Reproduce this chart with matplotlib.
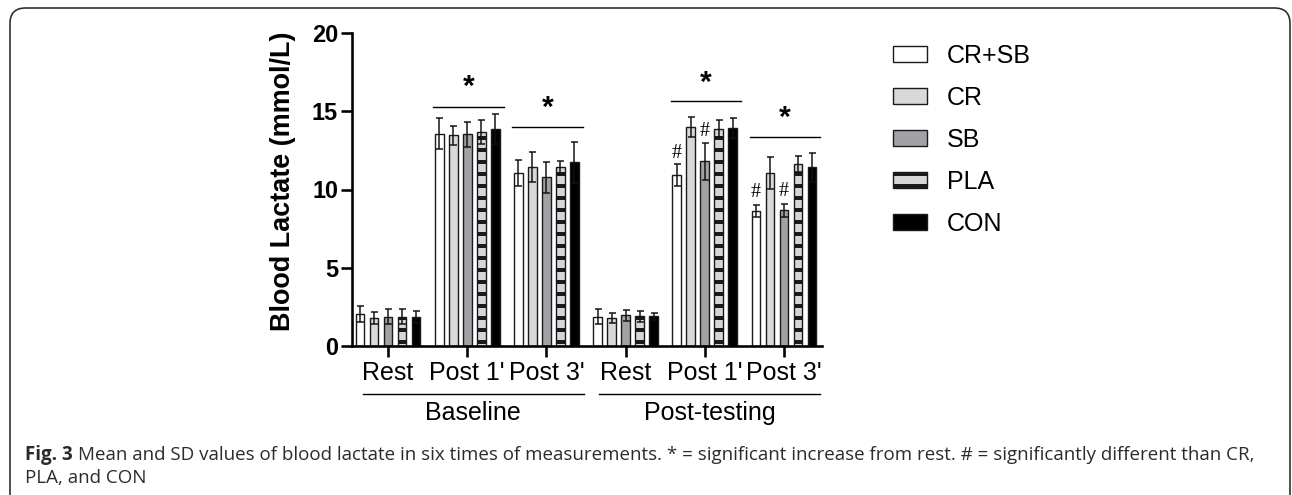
import matplotlib
matplotlib.use("Agg")
import matplotlib.pyplot as plt
from matplotlib.patches import FancyBboxPatch
from matplotlib.lines import Line2D
import numpy as np

# ---------------- data ----------------
time_labels = ["Rest", "Post 1'", "Post 3'", "Rest", "Post 1'", "Post 3'"]
phase_labels = ["Baseline", "Post-testing"]
series_names = ["CR+SB", "CR", "SB", "PLA", "CON"]

crsb_mean = [2.03, 13.57, 11.05, 1.87, 10.93, 8.65]
crsb_sd = [0.50, 1.00, 0.85, 0.47, 0.72, 0.38]
cr_mean = [1.77, 13.46, 11.44, 1.81, 13.97, 11.08]
cr_sd = [0.38, 0.60, 0.96, 0.32, 0.64, 1.02]
sb_mean = [1.87, 13.53, 10.78, 1.96, 11.80, 8.67]
sb_sd = [0.47, 0.80, 0.98, 0.34, 1.20, 0.40]
pla_mean = [1.87, 13.65, 11.42, 1.90, 13.89, 11.65]
pla_sd = [0.47, 0.77, 0.42, 0.36, 0.53, 0.51]
con_mean = [1.85, 13.87, 11.74, 1.90, 13.95, 11.42]
con_sd = [0.37, 0.98, 1.31, 0.23, 0.64, 0.93]

# significance: (group index, line height, star height)
star_groups = [1, 2, 4, 5]
star_line_y = [15.29, 13.97, 15.63, 13.37]
star_text_y = [16.55, 15.20, 16.80, 14.60]
# hash marks: (group index, series index, y)
hash_groups = [4, 4, 5, 5]
hash_series = [0, 2, 0, 2]
hash_y = [12.30, 13.70, 9.80, 9.86]

caption_bold = "Fig. 3"
caption_line1 = ("Mean and SD values of blood lactate in six times of measurements. "
                 "* = significant increase from rest. # = significantly different than CR,")
caption_line2 = "PLA, and CON"

# ---------------- style ----------------
DPI = 72
W, H = 1292, 495
plt.rcParams['font.family'] = ['Liberation Sans', 'DejaVu Sans']
plt.rcParams['hatch.linewidth'] = 4.0

fig = plt.figure(figsize=(W / DPI, H / DPI), dpi=DPI)

# frame around the figure
frame = FancyBboxPatch((10 / W, -0.1), (1290 - 10) / W, (1 - 8 / H) + 0.1,
                       boxstyle="round,pad=0,rounding_size=0.012",
                       transform=fig.transFigure, fill=False,
                       edgecolor='#2a2a2a', linewidth=1.6, mutation_aspect=W / H)
fig.patches.append(frame)

ax_left, ax_right = 352, 822
ax_top, ax_bottom = 33, 346
ax = fig.add_axes([ax_left / W, 1 - ax_bottom / H, (ax_right - ax_left) / W,
                   (ax_bottom - ax_top) / H])

means = [crsb_mean, cr_mean, sb_mean, pla_mean, con_mean]
sds = [crsb_sd, cr_sd, sb_sd, pla_sd, con_sd]
faces = ['white', '#d9d9d9', '#a2a2a6', '#d6d6d6', 'black']
hatches = [None, None, None, '-', None]

x = np.arange(len(time_labels))
pitch = 0.1768
bw = 0.11
handles = []
for i in range(5):
    xs = x + (i - 2) * pitch
    b = ax.bar(xs, means[i], width=bw, color=faces[i], edgecolor='#1a1a1a',
               linewidth=1.4, hatch=hatches[i], zorder=2, label=series_names[i])
    handles.append(b)
    ax.errorbar(xs, means[i], yerr=sds[i], fmt='none', ecolor='#111111',
                elinewidth=1.5, capsize=3.5, capthick=1.5, zorder=3)

ax.set_xlim(-0.455, 5.48)
ax.set_ylim(0, 20)
ax.set_yticks([0, 5, 10, 15, 20])
ax.set_xticks(x)
ax.set_xticklabels(time_labels, fontsize=25)
for lab in ax.get_yticklabels():
    lab.set_fontweight('bold')
    lab.set_fontsize(23.5)
for s in ['top', 'right']:
    ax.spines[s].set_visible(False)
for s in ['left', 'bottom']:
    ax.spines[s].set_linewidth(2.6)
ax.tick_params(axis='both', direction='out', length=11, width=2.6, color='black')
ax.tick_params(axis='y', pad=3)
ax.tick_params(axis='x', pad=4)

ax.set_ylabel("Blood Lactate (mmol/L)", fontsize=27, fontweight='bold')
ax.yaxis.label.set_va('center')
ax.yaxis.set_label_coords((283 - ax_left) / (ax_right - ax_left), 0.526)

# significance stars and lines
for g, ly, ty in zip(star_groups, star_line_y, star_text_y):
    ax.plot([g - 0.43, g + 0.46], [ly, ly], color='black', linewidth=1.4, zorder=4)
    ax.text(g + 0.015, ty, "*", ha='center', va='center', fontsize=30,
            fontweight='bold', zorder=4)

for g, si, hy in zip(hash_groups, hash_series, hash_y):
    ax.text(g + (si - 2) * pitch, hy, "#", ha='center', va='center', fontsize=20,
            family=['Liberation Serif', 'DejaVu Serif'], zorder=4)

# phase underlines and labels (below the axis)
trans = ax.get_xaxis_transform()
phase_x0 = [-0.32, 2.67]
phase_x1 = [2.47, 5.46]
line_y = -(394 - ax_bottom) / (ax_bottom - ax_top)
text_y = -(413 - ax_bottom) / (ax_bottom - ax_top)
for x0, x1, lab in zip(phase_x0, phase_x1, phase_labels):
    ax.add_line(Line2D([x0, x1], [line_y, line_y], transform=trans, color='black',
                       linewidth=1.4, clip_on=False))
    ax.text((x0 + x1) / 2, text_y, lab, transform=trans, ha='center', va='center',
            fontsize=25, clip_on=False)

# legend
leg = fig.legend(handles=handles, labels=series_names, loc='upper left',
                 bbox_to_anchor=(893 / W, 1 - 44 / H), frameon=False, fontsize=25,
                 handlelength=1.36, handleheight=0.6, handletextpad=0.8,
                 labelspacing=0.72, borderpad=0, borderaxespad=0)

# caption
renderer = fig.canvas.get_renderer()
cap_col = '#2b2b2b'
t1 = fig.text(25 / W, 1 - 455 / H, caption_bold, fontsize=18.8, fontweight='bold',
              family=['Open Sans', 'DejaVu Sans'], color=cap_col, va='center', ha='left')
bb = t1.get_window_extent(renderer=renderer)
fig.text((bb.x1 + 5) / W, 1 - 455 / H, caption_line1, fontsize=18.8,
         family=['Open Sans', 'DejaVu Sans'], color=cap_col, va='center', ha='left')
fig.text(25 / W, 1 - 478 / H, caption_line2, fontsize=18.8,
         family=['Open Sans', 'DejaVu Sans'], color=cap_col, va='center', ha='left')

fig.savefig("out.png", dpi=DPI)
